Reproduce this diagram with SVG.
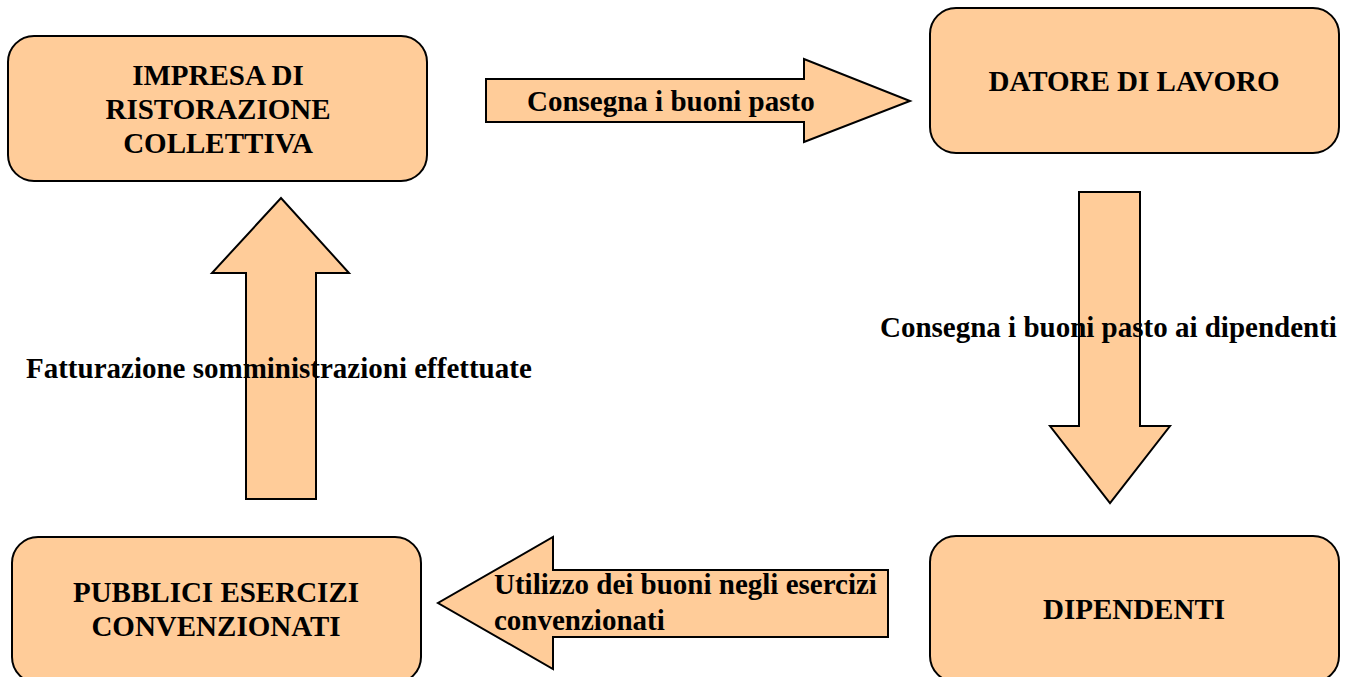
<svg xmlns="http://www.w3.org/2000/svg" width="1353" height="677" viewBox="0 0 1353 677">
<style>
.box{fill:#FFCC99;stroke:#000;stroke-width:2}
.arr{fill:#FFCC99;stroke:#000;stroke-width:2;stroke-linejoin:miter}
text{font-family:"Liberation Serif","Times New Roman",serif;font-weight:bold;font-size:29px;fill:#000}
.c{text-anchor:middle}
</style>
<rect width="1353" height="677" fill="#fff"/>
<g id="connectors">
<polygon class="arr" points="486,79 804,79 804,59 910,101 804,142 804,122 486,122"/>
<polygon class="arr" points="1079,192 1140,192 1140,426 1170,426 1110,503 1050,426 1079,426"/>
<polygon class="arr" points="888,570 553,570 553,537 438,603 553,669 553,637 888,637"/>
<polygon class="arr" points="246,499 246,273 212,273 281,198 349,273 316,273 316,499"/>
</g>
<g id="label-consegna"><text x="527" y="111">Consegna i buoni pasto</text></g>
<g id="label-dipendenti"><text x="880" y="337">Consegna i buoni pasto ai dipendenti</text></g>
<g id="label-utilizzo"><text x="494" y="594">Utilizzo dei buoni negli esercizi</text><text x="494" y="630">convenzionati</text></g>
<g id="label-fatturazione"><text x="26" y="378">Fatturazione somministrazioni effettuate</text></g>
<g id="node-impresa">
<rect class="box" x="8" y="36" width="419" height="145" rx="26"/>
<text class="c" x="218" y="85">IMPRESA DI</text>
<text class="c" x="218" y="119">RISTORAZIONE</text>
<text class="c" x="218" y="153">COLLETTIVA</text>
</g>
<g id="node-datore">
<rect class="box" x="930" y="8" width="409" height="145" rx="26"/>
<text class="c" x="1134" y="91">DATORE DI LAVORO</text>
</g>
<g id="node-dipendenti">
<rect class="box" x="930" y="536" width="409" height="146" rx="26"/>
<text class="c" x="1134" y="619">DIPENDENTI</text>
</g>
<g id="node-pubblici">
<rect class="box" x="12" y="537" width="409" height="146" rx="26"/>
<text class="c" x="216" y="602">PUBBLICI ESERCIZI</text>
<text class="c" x="216" y="636">CONVENZIONATI</text>
</g>
</svg>
